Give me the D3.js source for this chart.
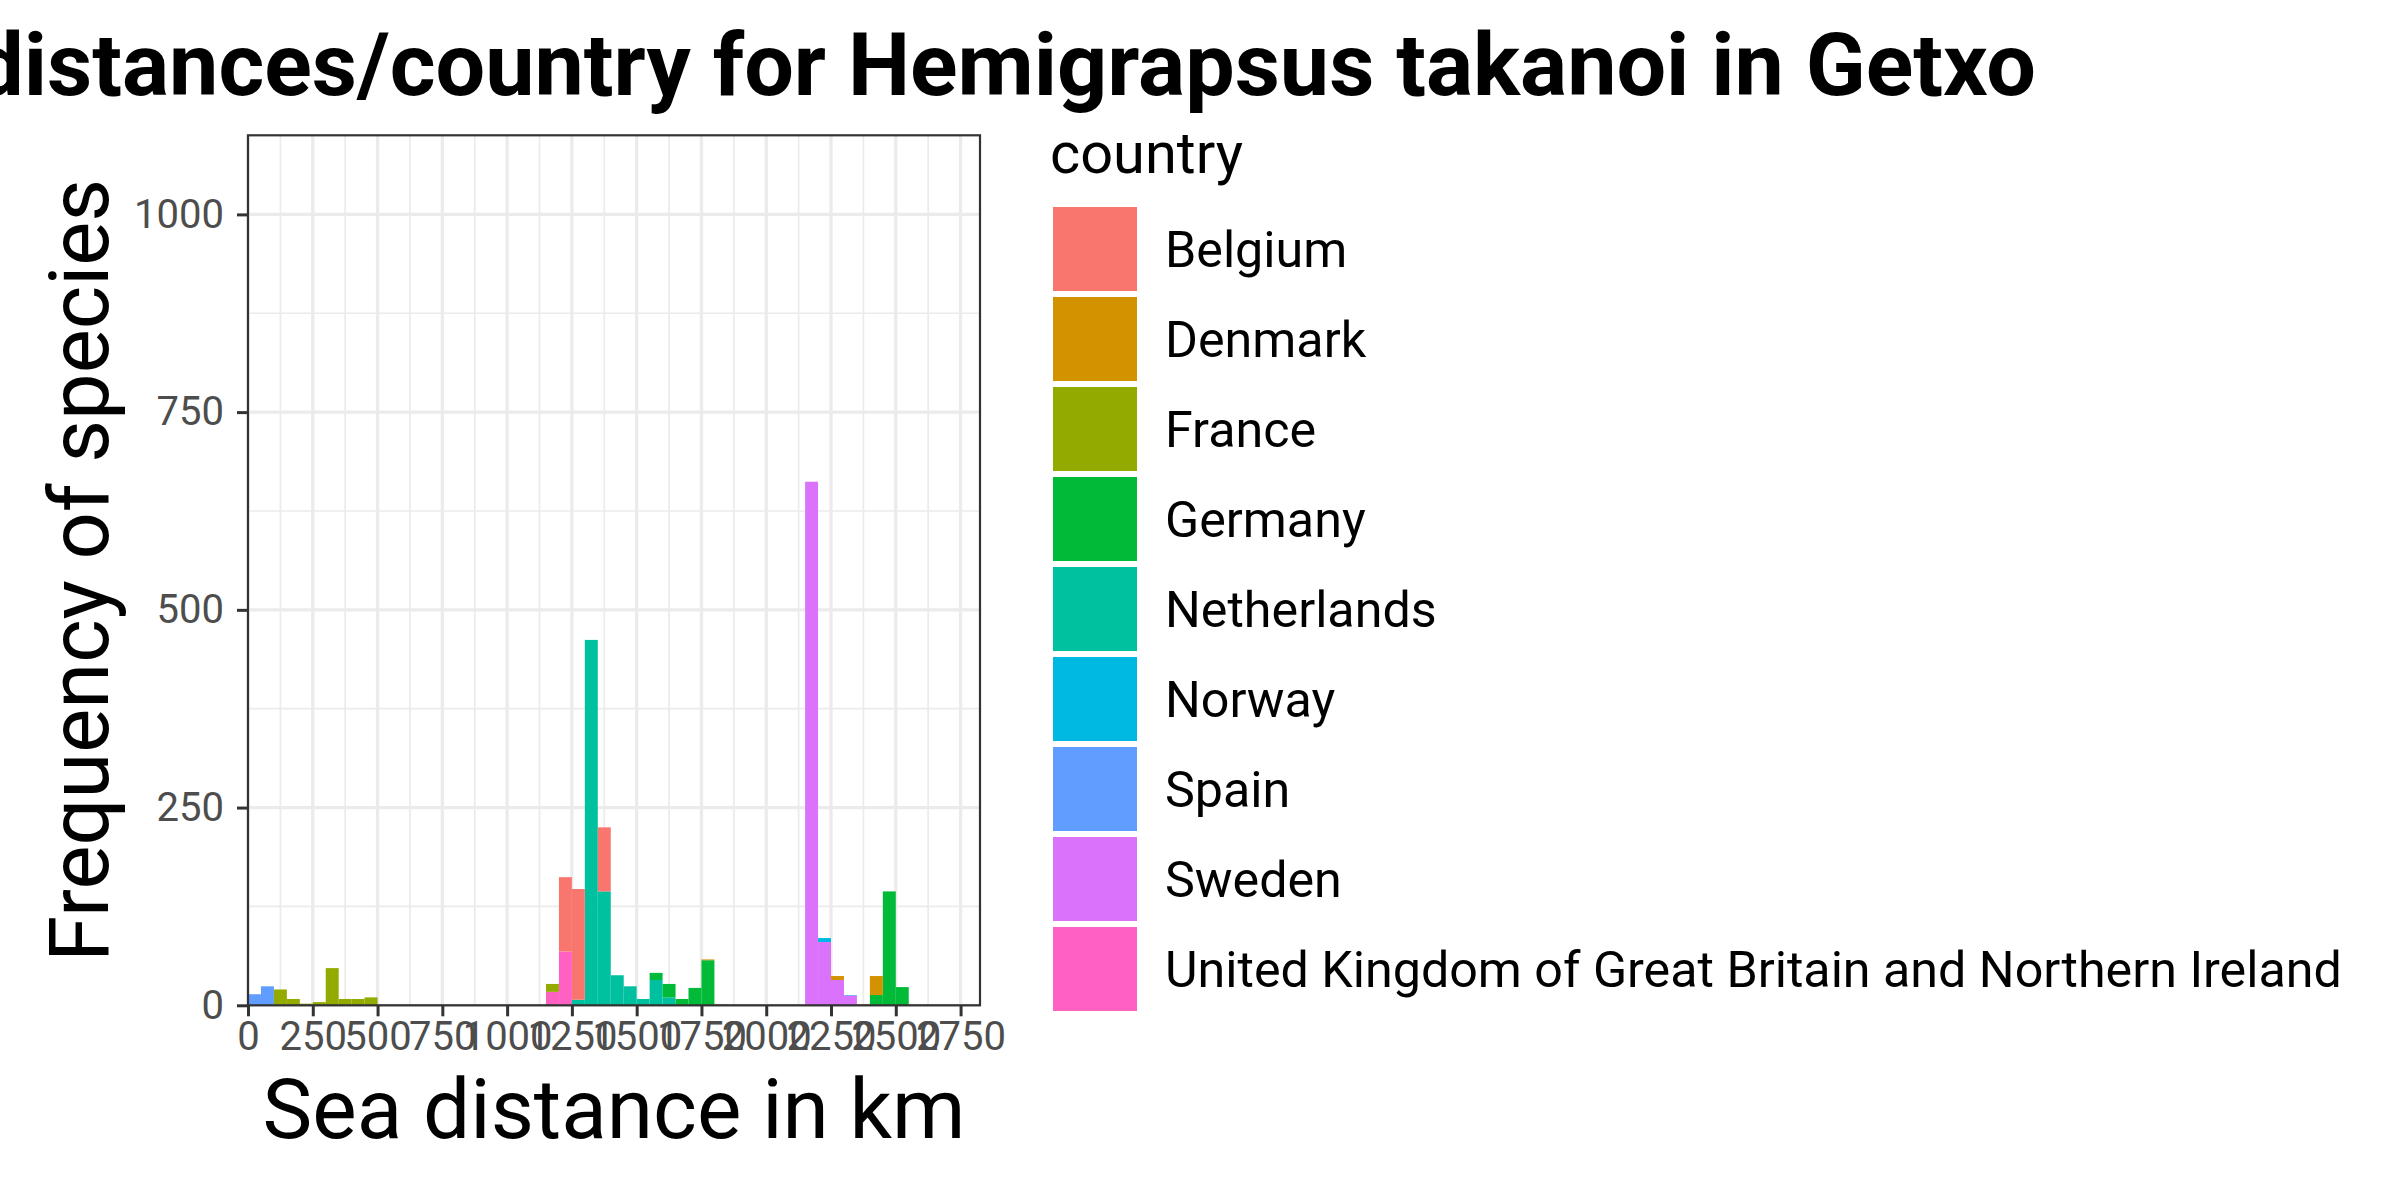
<!DOCTYPE html>
<html>
<head>
<meta charset="utf-8">
<script src="https://cdn.jsdelivr.net/npm/d3@7"></script>
<style>
  html, body { margin: 0; padding: 0; background: #ffffff; }
  svg { display: block; }
  text { font-family: Roboto, "Liberation Sans", sans-serif; }
</style>
</head>
<body>
<svg id="chart" width="2400" height="1200"></svg>
<script>
// ---- data ----
const countries = ["Belgium", "Denmark", "France", "Germany", "Netherlands", "Norway", "Spain", "Sweden", "United Kingdom of Great Britain and Northern Ireland"];
const colors = ["#F8766D", "#D39200", "#93AA00", "#00BA38", "#00C19F", "#00B9E3", "#619CFF", "#DB72FB", "#FF61C3"];
const binWidth = 50;
const binStarts = [0, 50, 100, 150, 200, 250, 300, 350, 400, 450, 1150, 1200, 1250, 1300, 1350, 1400, 1450, 1500, 1550, 1600, 1650, 1700, 1750, 1800, 2150, 2200, 2250, 2300, 2350, 2400, 2450, 2500];
const belgium     = [0, 0, 0, 0, 0, 0, 0, 0, 0, 0, 0, 94, 140, 0, 81, 0, 0, 0, 0, 0, 0, 0, 0, 0, 0, 0, 0, 0, 0, 0, 0, 0];
const denmark     = [0, 0, 0, 0, 0, 0, 0, 0, 0, 0, 0, 0, 0, 0, 0, 0, 0, 0, 0, 0, 0, 0, 1, 1, 0, 0, 5, 0, 1, 24, 0, 0];
const france      = [0, 0, 20, 8, 2, 4, 47, 8, 8, 10, 10, 0, 0, 0, 0, 0, 0, 0, 0, 0, 0, 0, 0, 0, 0, 0, 0, 0, 0, 0, 0, 0];
const germany     = [0, 0, 0, 0, 0, 0, 0, 0, 0, 0, 0, 0, 0, 0, 0, 0, 0, 0, 9, 17, 8, 22, 57, 0, 0, 0, 0, 0, 0, 13, 144, 23];
const netherlands = [0, 0, 0, 0, 0, 0, 0, 0, 0, 0, 0, 0, 7, 462, 144, 38, 24, 8, 32, 10, 0, 0, 0, 0, 0, 0, 0, 0, 0, 0, 0, 0];
const norway      = [0, 0, 0, 0, 0, 0, 0, 0, 0, 0, 0, 0, 0, 0, 0, 0, 0, 0, 0, 0, 0, 0, 0, 0, 0, 5, 0, 0, 0, 0, 0, 0];
const spain       = [14, 24, 0, 0, 0, 0, 0, 0, 0, 0, 0, 0, 0, 0, 0, 0, 0, 0, 0, 0, 0, 0, 0, 0, 0, 0, 0, 1, 0, 0, 0, 0];
const sweden      = [0, 0, 0, 0, 0, 0, 0, 0, 0, 0, 0, 0, 0, 0, 0, 0, 0, 0, 0, 0, 0, 0, 0, 0, 662, 80, 32, 12, 0, 0, 0, 0];
const uk          = [0, 0, 0, 0, 0, 0, 0, 0, 0, 0, 17, 68, 0, 0, 0, 0, 0, 0, 0, 0, 0, 0, 0, 0, 0, 0, 0, 0, 0, 0, 0, 0];
const xTicks = [0, 250, 500, 750, 1000, 1250, 1500, 1750, 2000, 2250, 2500, 2750];
const yTicks = [0, 250, 500, 750, 1000];
const titleText = "distances/country for Hemigrapsus takanoi in Getxo";
const xTitle = "Sea distance in km";
const yTitle = "Frequency of species";
const legendTitle = "country";

// ---- build table ----
const seriesArrays = [belgium, denmark, france, germany, netherlands, norway, spain, sweden, uk];
const table = binStarts.map((b, i) => {
  const row = { bin: b };
  countries.forEach((c, k) => { row[c] = seriesArrays[k][i]; });
  return row;
});

// ---- layout ----
const svg = d3.select("#chart");
svg.append("rect").attr("width", 2400).attr("height", 1200).attr("fill", "#ffffff");
const P = { left: 248, right: 980, top: 135.3, bottom: 1005.3 };

const x = d3.scaleLinear().domain([0, 2825]).range([P.left, P.right]);
const y = d3.scaleLinear().domain([0, 1100]).range([P.bottom, P.top]);
const color = d3.scaleOrdinal().domain(countries).range(colors);

const g = svg.append("g");

// panel background
g.append("rect").attr("x", P.left).attr("y", P.top)
  .attr("width", P.right - P.left).attr("height", P.bottom - P.top).attr("fill", "#ffffff");

// minor grid
const xMinor = xTicks.map(t => t + 125).filter(t => t < 2825);
const yMinor = yTicks.map(t => t + 125).filter(t => t < 1100);
g.selectAll(".xminor").data(xMinor).join("line")
  .attr("x1", d => x(d)).attr("x2", d => x(d)).attr("y1", P.top).attr("y2", P.bottom)
  .attr("stroke", "#EBEBEB").attr("stroke-width", 1.7);
g.selectAll(".yminor").data(yMinor).join("line")
  .attr("y1", d => y(d)).attr("y2", d => y(d)).attr("x1", P.left).attr("x2", P.right)
  .attr("stroke", "#EBEBEB").attr("stroke-width", 1.7);
// major grid
g.selectAll(".xmajor").data(xTicks).join("line")
  .attr("x1", d => x(d)).attr("x2", d => x(d)).attr("y1", P.top).attr("y2", P.bottom)
  .attr("stroke", "#EBEBEB").attr("stroke-width", 3.3);
g.selectAll(".ymajor").data(yTicks).join("line")
  .attr("y1", d => y(d)).attr("y2", d => y(d)).attr("x1", P.left).attr("x2", P.right)
  .attr("stroke", "#EBEBEB").attr("stroke-width", 3.3);

// stacked bars: last factor level at bottom
const stackKeys = countries.slice().reverse();
const stacked = d3.stack().keys(stackKeys)(table);
const bars = g.append("g");
stacked.forEach(layer => {
  bars.append("g").attr("fill", color(layer.key))
    .selectAll("rect").data(layer.filter(d => d[1] - d[0] > 0)).join("rect")
    .attr("x", d => x(d.data.bin))
    .attr("width", d => x(d.data.bin + binWidth) - x(d.data.bin))
    .attr("y", d => y(d[1]))
    .attr("height", d => y(d[0]) - y(d[1]));
});

// panel border
g.append("rect").attr("x", P.left).attr("y", P.top)
  .attr("width", P.right - P.left).attr("height", P.bottom - P.top)
  .attr("fill", "none").attr("stroke", "#333333").attr("stroke-width", 2.2);

// axes
const xAxis = d3.axisBottom(x).tickValues(xTicks).tickSize(11).tickPadding(5).tickFormat(d3.format("d"));
const xg = svg.append("g").attr("transform", `translate(0,${P.bottom})`).call(xAxis);
xg.select(".domain").remove();
xg.selectAll(".tick line").attr("stroke", "#333333").attr("stroke-width", 3);
xg.selectAll(".tick text").attr("fill", "#4D4D4D").attr("font-size", 40)
  .attr("font-family", "Roboto, 'Liberation Sans', sans-serif").attr("dy", "0.71em");

const yAxis = d3.axisLeft(y).tickValues(yTicks).tickSize(11).tickPadding(13).tickFormat(d3.format("d"));
const yg = svg.append("g").attr("transform", `translate(${P.left},0)`).call(yAxis);
yg.select(".domain").remove();
yg.selectAll(".tick line").attr("stroke", "#333333").attr("stroke-width", 3);
yg.selectAll(".tick text").attr("fill", "#4D4D4D").attr("font-size", 40)
  .attr("font-family", "Roboto, 'Liberation Sans', sans-serif");

function fitWidth(sel, target) {
  const w = sel.node().getComputedTextLength();
  const fs = parseFloat(sel.attr("font-size"));
  sel.attr("font-size", fs * target / w);
}

// titles
const t = svg.append("text").attr("x", 2036).attr("y", 95).attr("text-anchor", "end")
  .attr("font-size", 87).attr("font-weight", "bold").attr("fill", "#000").text(titleText);
fitWidth(t, 2062);

const xt = svg.append("text").attr("x", (P.left + P.right) / 2).attr("y", 1138)
  .attr("text-anchor", "middle").attr("font-size", 90).attr("fill", "#000").text(xTitle);
fitWidth(xt, 703);

const yt = svg.append("text")
  .attr("transform", `translate(108,${(P.top + P.bottom) / 2}) rotate(-90)`)
  .attr("text-anchor", "middle").attr("font-size", 90).attr("fill", "#000").text(yTitle);
fitWidth(yt, 783);

// legend
const lg = svg.append("g");
const lt = lg.append("text").attr("x", 1050).attr("y", 173).attr("font-size", 60).attr("fill", "#000").text(legendTitle);
fitWidth(lt, 193);

const keyTop = 207, keyStep = 90, keySize = 84;
const items = lg.selectAll(".item").data(countries).join("g")
  .attr("transform", (d, i) => `translate(1053,${keyTop + i * keyStep})`);
items.append("rect").attr("width", keySize).attr("height", keySize).attr("fill", d => color(d));
const labels = items.append("text").attr("x", 112).attr("y", keySize / 2 + 17.5)
  .attr("font-size", 49).attr("fill", "#000").text(d => d);
// fit size from the longest label, apply to all
const ukNode = labels.filter(d => d === countries[8]);
const wUK = ukNode.node().getComputedTextLength();
labels.attr("font-size", 49 * 1177 / wUK);
</script>
</body>
</html>
